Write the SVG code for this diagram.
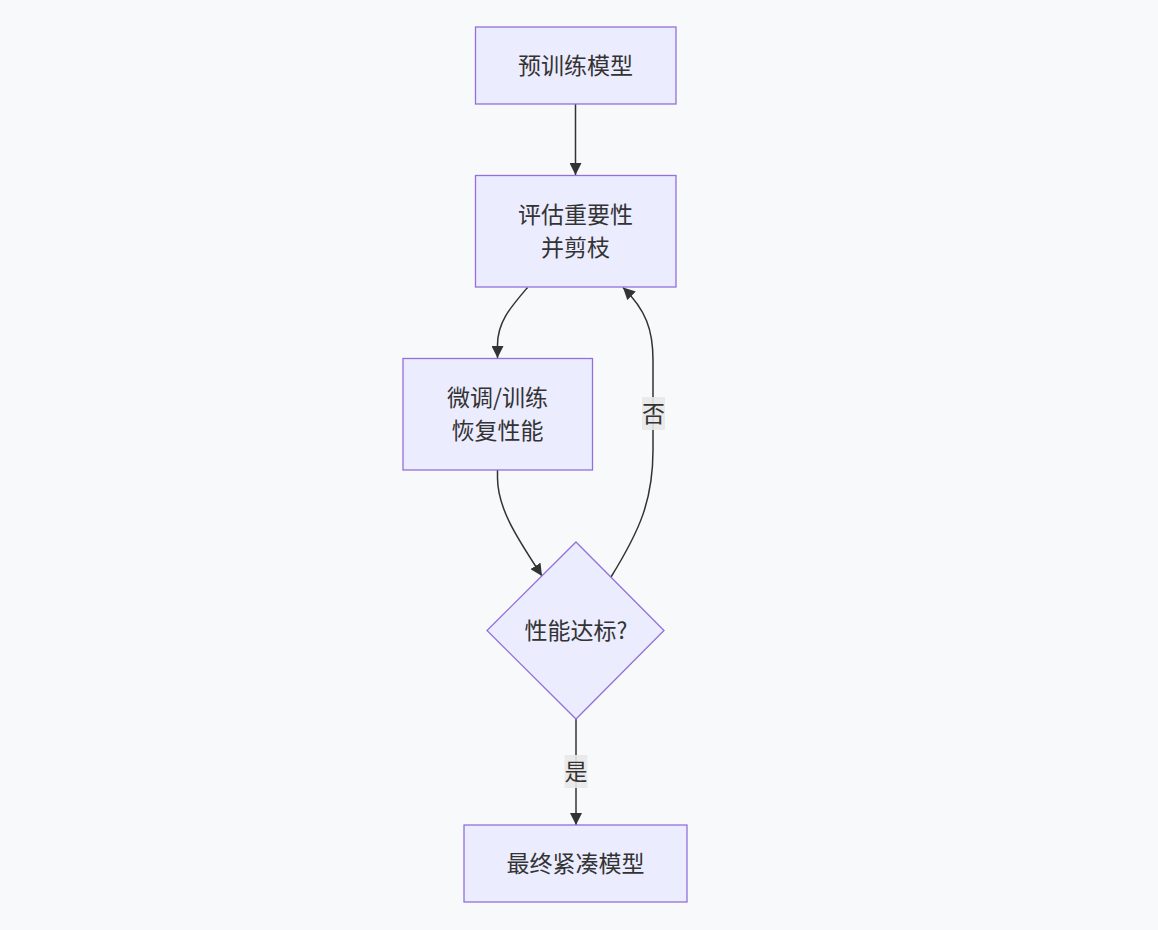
<svg xmlns="http://www.w3.org/2000/svg" width="1158" height="930" viewBox="0 0 1158 930">
<defs>
<marker id="arrow" markerUnits="userSpaceOnUse" markerWidth="12" markerHeight="12" viewBox="0 0 12 12" refX="12" refY="6" orient="auto">
<path d="M0,0 L12,6 L0,12 z" fill="#333333"/>
</marker>
<style>
.node rect, .node polygon { fill: #ECECFF; stroke: #9370DB; stroke-width: 1.3; }
.node text, .lbl text { font-family: "Noto Sans CJK SC", "Noto Sans", sans-serif; font-size: 23px; fill: #333333; text-anchor: middle; }
.edges path { fill: none; stroke: #333333; stroke-width: 1.5; }
.lbl rect { fill: #e8e8e8; opacity: 0.9; }
</style>
</defs>
<rect width="1158" height="930" fill="#f8f9fb"/>
<g id="edges" class="edges">
<path d="M575.5,104 L575.5,175" marker-end="url(#arrow)"/>
<path d="M527.5,287.5 C510,308 497.5,322 497.5,345 L497.5,358" marker-end="url(#arrow)"/>
<path d="M497.5,470 L497.5,478 C497.5,510 520,542 542,576" marker-end="url(#arrow)"/>
<path d="M611,577 C640,530 653,500 653,450 L653,360 C653,330 646,310 623,287.5" marker-end="url(#arrow)"/>
<path d="M576,719 L576,825" marker-end="url(#arrow)"/>
</g>
<g id="label-no" class="lbl">
<rect x="642" y="397" width="23" height="33"/>
<text x="653.5" y="421.5">否</text>
</g>
<g id="label-yes" class="lbl">
<rect x="564.5" y="755" width="23" height="33"/>
<text x="576" y="779.5">是</text>
</g>
<g id="A" class="node">
<rect x="475.5" y="27" width="200.5" height="77"/>
<text x="575.5" y="73.5">预训练模型</text>
</g>
<g id="B" class="node">
<rect x="475.5" y="175.5" width="200.5" height="111.5"/>
<text x="575.5" y="222.5">评估重要性</text>
<text x="575.5" y="255.5">并剪枝</text>
</g>
<g id="C" class="node">
<rect x="403" y="358.5" width="189.5" height="111.5"/>
<text x="497.5" y="405.5">微调/训练</text>
<text x="497.5" y="438.5">恢复性能</text>
</g>
<g id="D" class="node">
<polygon points="576,542 664,630.5 576,719 487,630.5"/>
<text x="576" y="638.5">性能达标?</text>
</g>
<g id="E" class="node">
<rect x="464" y="825" width="223" height="77"/>
<text x="575.5" y="871.5">最终紧凑模型</text>
</g>
</svg>
